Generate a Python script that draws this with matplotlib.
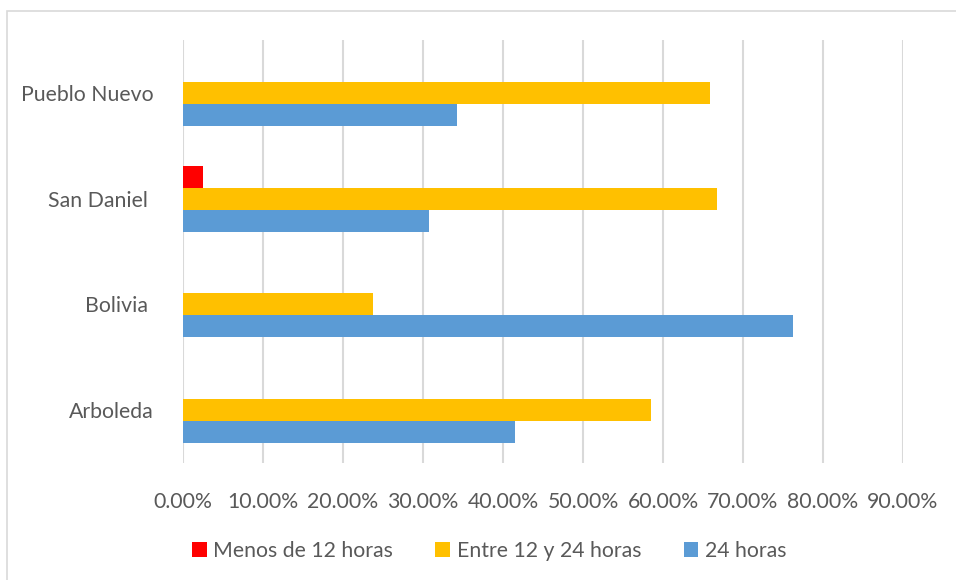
import matplotlib
matplotlib.use("Agg")
import matplotlib.pyplot as plt
from matplotlib.patches import Rectangle
import numpy as np

categories = ["Arboleda", "Bolivia ", "San Daniel ", "Pueblo Nuevo"]
menos_12 = [0.0, 0.0, 2.5, 0.0]
entre_12_24 = [58.5, 23.8, 66.7, 65.9]
horas_24 = [41.5, 76.2, 30.8, 34.2]
series_names = ["Menos de 12 horas", "Entre 12 y 24 horas", "24 horas"]
xticks = [0, 10, 20, 30, 40, 50, 60, 70, 80, 90]

colors = ["#FF0000", "#FFC000", "#5B9BD5"]
text_color = "#595959"
grid_color = "#D9D9D9"

plt.rcParams['font.family'] = ['Lato', 'DejaVu Sans']

fig = plt.figure(figsize=(9.56, 5.8), dpi=100)
ax = fig.add_axes([183/956, 1 - 463/580, 720/956, 423/580])

y = np.arange(len(categories))
h = 0.208
series = [menos_12, entre_12_24, horas_24]
offsets = [h, 0, -h]
for vals, off, col, name in zip(series, offsets, colors, series_names):
    ax.barh(y + off, vals, height=h, color=col, label=name, linewidth=0, zorder=3)

ax.set_xlim(0, 90)
ax.set_ylim(-0.5, len(categories) - 0.5)
ax.set_xticks(xticks)
ax.set_xticklabels([f"{v:.2f}%" for v in xticks])
ax.set_yticks(y)
ax.set_yticklabels(categories)
ax.tick_params(axis='both', length=0, labelsize=15.3, colors=text_color)
ax.tick_params(axis='x', pad=21)
ax.tick_params(axis='y', pad=21)
ax.grid(axis='x', color=grid_color, linewidth=1.5, zorder=0)
ax.grid(axis='y', visible=False)
for s in ax.spines.values():
    s.set_visible(False)

handles, labels = ax.get_legend_handles_labels()
leg = fig.legend(handles, labels, loc='center', bbox_to_anchor=(489/956, 1 - 551/580),
                 ncol=3, frameon=False, fontsize=15.3, handlelength=0.7, handleheight=0.7,
                 handletextpad=0.3, columnspacing=2.0, borderaxespad=0)
for t in leg.get_texts():
    t.set_color(text_color)

fig.add_artist(Rectangle((7/956, -0.1), 1.2, (1 - 11/580) + 0.1, transform=fig.transFigure,
                         fill=False, edgecolor=grid_color, linewidth=1.2))

fig.savefig("out.png", dpi=100)
